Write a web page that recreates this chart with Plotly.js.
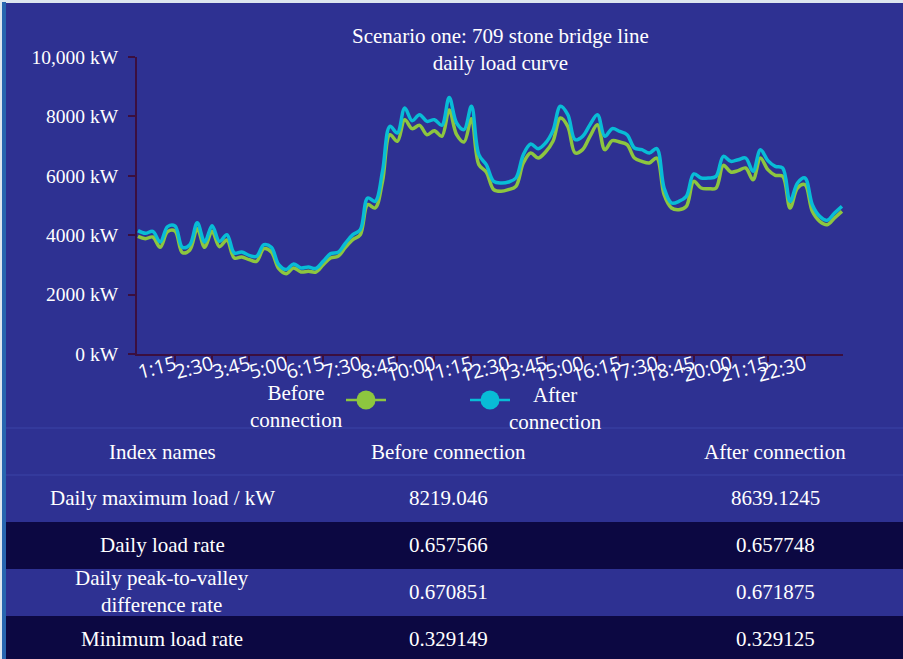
<!DOCTYPE html>
<html>
<head>
<meta charset="utf-8">
<script src="https://cdn.plot.ly/plotly-3.0.1.min.js"></script>
<style>
html,body{margin:0;padding:0;overflow:hidden;background:#dde6ef;width:903px;height:659px;}
#strip{position:absolute;left:2px;top:2px;width:4px;height:700px;background:#2766b0;}
#chart{position:absolute;left:6px;top:3px;width:966px;height:662px;}
</style>
</head>
<body>
<div id="strip"></div>
<div id="chart"></div>
<script>
// ---- data ----
const times = ["0:00","0:15","0:30","0:45","1:00","1:15","1:30","1:45","2:00","2:15","2:30","2:45",
"3:00","3:15","3:30","3:45","4:00","4:15","4:30","4:45","5:00","5:15","5:30","5:45",
"6:00","6:15","6:30","6:45","7:00","7:15","7:30","7:45","8:00","8:15","8:30","8:45",
"9:00","9:15","9:30","9:45","10:00","10:15","10:30","10:45","11:00","11:15","11:30","11:45",
"12:00","12:15","12:30","12:45","13:00","13:15","13:30","13:45","14:00","14:15","14:30","14:45",
"15:00","15:15","15:30","15:45","16:00","16:15","16:30","16:45","17:00","17:15","17:30","17:45",
"18:00","18:15","18:30","18:45","19:00","19:15","19:30","19:45","20:00","20:15","20:30","20:45",
"21:00","21:15","21:30","21:45","22:00","22:15","22:30","22:45","23:00","23:15","23:30","23:45"];

const beforeLoad = [3962,3883,3939,3591,4120,4140,3411,3502,4220,3591,
4130,3614,3838,3232,3266,3176,3120,3547,3434,2873,
2705,2896,2761,2783,2760,3008,3232,3288,3591,3850,
4018,5028,4916,5814,7385,7160,7890,7587,7699,7385,
7520,7329,8219,7385,7138,7924,6375,6128,5533,5477,
5533,5645,6431,6768,6599,6801,7160,7946,7666,6768,
6880,7329,7722,6880,7183,7138,7048,6599,6487,6431,
6599,5365,4916,4860,4972,5814,5589,5567,5589,6352,
6128,6173,6263,5870,6599,6206,6016,5982,4916,5589,
5701,4804,4467,4355,4579,4804];

const afterLoad = [4153,4063,4130,3771,4290,4310,3591,3681,4422,3771,
4321,3793,4018,3401,3434,3322,3288,3681,3591,3008,
2843,3030,2896,2929,2880,3120,3378,3423,3737,4018,
4186,5253,5140,6150,7666,7441,8280,7856,8058,7834,
7890,7699,8639,7778,7553,8339,6712,6375,5814,5758,
5791,5926,6712,7071,6914,7104,7520,8339,8058,7217,
7329,7722,8058,7329,7587,7497,7385,6936,6880,6768,
6914,5589,5084,5140,5309,6061,5926,5926,5982,6655,
6487,6543,6599,6150,6880,6510,6319,6263,5140,5758,
5926,5028,4635,4500,4747,4972];

const xTickVals = ["1:15","2:30","3:45","5:00","6:15","7:30","8:45","10:00","11:15","12:30",
"13:45","15:00","16:15","17:30","18:45","20:00","21:15","22:30"];
const yTickVals = [0,2000,4000,6000,8000,10000];
const yTickText = ["0 kW","2000 kW","4000 kW","6000 kW","8000 kW","10,000 kW"];

const seriesNames = ["Before connection","After connection"];
const chartTitle = "Scenario one: 709 stone bridge line<br>daily load curve";

const tableHeader = ["Index names","Before connection","After connection"];
const indexNames = ["Daily maximum load / kW","Daily load rate","Daily peak-to-valley<br>difference rate","Minimum load rate"];
const beforeStats = ["8219.046","0.657566","0.670851","0.329149"];
const afterStats = ["8639.1245","0.657748","0.671875","0.329125"];

// ---- layout helpers (screen px -> paper) ----
const W = 966, H = 662, OX = 6, OY = 3;
const px = x => (x - OX) / W;
const py = y => 1 - (y - OY) / H;

const BG = '#2e3192';
const DARK = '#0c0842';
const GREEN = '#8dc63f';
const CYAN = '#08bcd6';
const AXC = '#3b0f3f';
const SEP = '#3a45a6';
const SERIF = 'Liberation Serif, Times New Roman, serif';

// table geometry
const colWidths = [312, 260, 394];
const tableTop = 428, rowH = 47;
const rowFill = [BG, DARK, BG, DARK];
const tableCols = [indexNames, beforeStats, afterStats];

const traces = [
  {type:'scatter', mode:'lines', x:times, y:beforeLoad, name:seriesNames[0],
   line:{color:GREEN, width:3.5, shape:'spline', smoothing:1}, xaxis:'x', yaxis:'y'},
  {type:'scatter', mode:'lines', x:times, y:afterLoad, name:seriesNames[1],
   line:{color:CYAN, width:3.5, shape:'spline', smoothing:1}, xaxis:'x', yaxis:'y'},
  {type:'table', domain:{x:[0,1], y:[0, py(tableTop)]},
   columnwidth:colWidths,
   header:{values:tableHeader.map(() => ''), height:rowH,
     fill:{color:BG}, line:{color:BG, width:0}},
   cells:{values:tableCols.map(c => c.map(() => '')), height:rowH,
     fill:{color:tableCols.map(() => rowFill)},
     line:{color:tableCols.map(() => rowFill), width:0}}}
];

const annotations = [
  {text:chartTitle, xref:'paper', yref:'paper', x:px(500), y:py(49.5),
   xanchor:'center', yanchor:'middle', showarrow:false, align:'center',
   font:{family:SERIF, size:21, color:'white'}},
  {text:'Before<br>connection', xref:'paper', yref:'paper', x:px(296), y:py(406),
   xanchor:'center', yanchor:'middle', showarrow:false, align:'center',
   font:{family:SERIF, size:21, color:'white'}},
  {text:'After<br>connection', xref:'paper', yref:'paper', x:px(555), y:py(408),
   xanchor:'center', yanchor:'middle', showarrow:false, align:'center',
   font:{family:SERIF, size:21, color:'white'}}
];

// table cell texts
let colStart = OX;
const colCenters = colWidths.map(w => { const c = colStart + w / 2; colStart += w; return c; });
tableHeader.forEach((t, ci) => annotations.push({text:t, xref:'paper', yref:'paper',
  x:px(colCenters[ci]), y:py(tableTop + rowH / 2), xanchor:'center', yanchor:'middle',
  showarrow:false, align:'center', font:{family:SERIF, size:21, color:'white'}}));
tableCols.forEach((col, ci) => col.forEach((t, ri) => annotations.push({text:t, xref:'paper', yref:'paper',
  x:px(colCenters[ci]), y:py(tableTop + rowH * (ri + 1.5) - 1), xanchor:'center', yanchor:'middle',
  showarrow:false, align:'center', font:{family:SERIF, size:21, color:'white'}})));

const layout = {
  width:W, height:H,
  margin:{l:0,r:0,t:0,b:0},
  paper_bgcolor:BG, plot_bgcolor:BG,
  showlegend:false,
  xaxis:{type:'category', domain:[px(137), px(843)], range:[-0.13, 95.14],
    showgrid:false, zeroline:false, showline:true, linecolor:AXC, linewidth:2,
    ticks:'outside', ticklen:6, tickcolor:AXC, tickwidth:2,
    tickmode:'array', tickvals:xTickVals, ticktext:xTickVals, tickangle:-15,
    ticklabelstandoff:-16,
    tickfont:{family:'Open Sans, Noto Sans, sans-serif', size:19.5, color:'white'}},
  yaxis:{domain:[py(354), py(57)], range:[0,10000],
    showgrid:false, zeroline:false, showline:true, linecolor:AXC, linewidth:2,
    ticks:'outside', ticklen:7, tickcolor:AXC, tickwidth:2,
    tickmode:'array', tickvals:yTickVals, ticktext:yTickText,
    ticklabelstandoff:6,
    tickfont:{family:SERIF, size:19.5, color:'white'}},
  annotations:annotations,
  shapes:[
    {type:'line', xref:'paper', yref:'paper', x0:0, x1:1, y0:py(tableTop), y1:py(tableTop),
     line:{color:SEP, width:1}},
    {type:'line', xref:'paper', yref:'paper', x0:0, x1:1, y0:py(tableTop+rowH), y1:py(tableTop+rowH),
     line:{color:SEP, width:1}},
    {type:'line', xref:'paper', yref:'paper', x0:px(346), x1:px(386), y0:py(400), y1:py(400),
     line:{color:GREEN, width:2.5}},
    {type:'circle', xref:'paper', yref:'paper', x0:px(356.5), x1:px(375.5), y0:py(390.5), y1:py(409.5),
     fillcolor:GREEN, line:{color:GREEN, width:0}},
    {type:'line', xref:'paper', yref:'paper', x0:px(470), x1:px(510), y0:py(400), y1:py(400),
     line:{color:CYAN, width:2.5}},
    {type:'circle', xref:'paper', yref:'paper', x0:px(480.5), x1:px(499.5), y0:py(390.5), y1:py(409.5),
     fillcolor:CYAN, line:{color:CYAN, width:0}}
  ]
};

Plotly.newPlot('chart', traces, layout, {staticPlot:true, displayModeBar:false});
</script>
</body>
</html>
